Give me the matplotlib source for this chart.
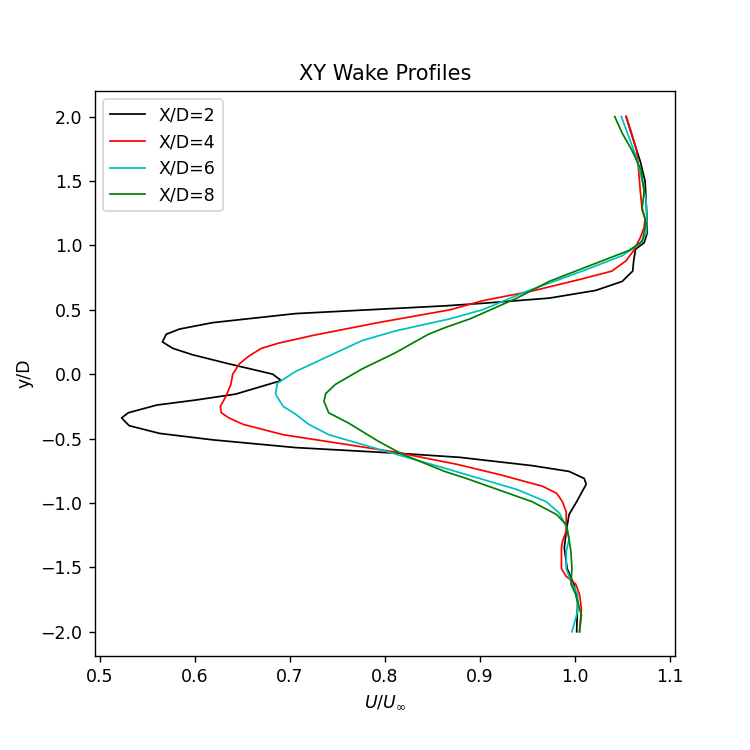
import matplotlib
matplotlib.use("Agg")
import matplotlib.pyplot as plt

labels = ["X/D=2", "X/D=4", "X/D=6", "X/D=8"]
colors = ["k", "r", "c", "g"]

y_2 = [2.00, 1.81, 1.65, 1.50, 1.35, 1.21, 1.09, 1.02, 0.97, 0.88, 0.80, 0.75, 0.72, 0.65,
       0.59, 0.55, 0.53, 0.47, 0.40, 0.35, 0.31, 0.25, 0.20, 0.15, 0.08, 0.00, -0.05, -0.155,
       -0.20, -0.24, -0.30, -0.34, -0.40, -0.46, -0.51, -0.57, -0.615, -0.646, -0.71, -0.755,
       -0.81, -0.855, -0.99, -1.09, -1.22, -1.35, -1.51, -1.63, -1.77, -2.00]
u_2 = [1.054, 1.062, 1.069, 1.074, 1.075, 1.076, 1.076, 1.073, 1.064, 1.062, 1.061, 1.054, 1.050, 1.022,
       0.973, 0.903, 0.863, 0.706, 0.619, 0.584, 0.570, 0.566, 0.577, 0.598, 0.636, 0.682, 0.691, 0.643,
       0.602, 0.560, 0.530, 0.523, 0.531, 0.563, 0.619, 0.706, 0.816, 0.879, 0.955, 0.994,
       1.010, 1.012, 1.002, 0.994, 0.991, 0.989, 0.992, 0.999, 1.003, 1.002]

y_4 = [2.00, 1.89, 1.74, 1.60, 1.42, 1.27, 1.21, 1.14, 1.06, 0.96, 0.88, 0.80, 0.74, 0.645,
       0.57, 0.50, 0.40, 0.30, 0.24, 0.20, 0.14, 0.08, 0.00, -0.08, -0.17, -0.25, -0.30, -0.34,
       -0.39, -0.47, -0.545, -0.605, -0.70, -0.78, -0.87, -0.925, -0.99, -1.07, -1.22, -1.30,
       -1.35, -1.51, -1.57, -1.63, -1.71, -1.82, -2.00]
u_4 = [1.054, 1.059, 1.065, 1.067, 1.069, 1.071, 1.074, 1.073, 1.069, 1.062, 1.054, 1.039, 1.008, 0.955,
       0.903, 0.869, 0.793, 0.724, 0.688, 0.670, 0.657, 0.647, 0.640, 0.638, 0.633, 0.627, 0.628, 0.636,
       0.651, 0.693, 0.759, 0.811, 0.876, 0.921, 0.966, 0.981, 0.987, 0.991, 0.991, 0.987,
       0.986, 0.986, 0.991, 1.001, 1.005, 1.007, 1.005]

y_6 = [2.00, 1.84, 1.68, 1.50, 1.35, 1.19, 1.09, 1.01, 0.92, 0.80, 0.645, 0.50, 0.43, 0.335,
       0.26, 0.14, 0.02, -0.07, -0.155, -0.25, -0.31, -0.39, -0.47, -0.545, -0.62, -0.73,
       -0.78, -0.895, -0.99, -1.08, -1.20, -1.28, -1.38, -1.51, -1.61, -1.71, -1.84, -2.00]
u_6 = [1.049, 1.057, 1.065, 1.071, 1.075, 1.076, 1.075, 1.068, 1.050, 1.008, 0.950, 0.903, 0.869, 0.811,
       0.776, 0.741, 0.706, 0.687, 0.685, 0.693, 0.706, 0.720, 0.741, 0.776, 0.811, 0.863,
       0.886, 0.939, 0.970, 0.984, 0.992, 0.994, 0.991, 0.991, 0.996, 1.003, 1.003, 0.997]

y_8 = [2.00, 1.87, 1.74, 1.58, 1.42, 1.29, 1.17, 1.03, 0.96, 0.88, 0.72, 0.59, 0.43, 0.36,
       0.31, 0.165, 0.04, -0.08, -0.15, -0.21, -0.30, -0.38, -0.52, -0.62, -0.755, -0.81,
       -0.99, -1.09, -1.17, -1.28, -1.38, -1.51, -1.63, -1.71, -1.87, -2.00]
u_8 = [1.042, 1.050, 1.060, 1.070, 1.073, 1.071, 1.075, 1.071, 1.057, 1.029, 0.973, 0.939, 0.890, 0.863,
       0.846, 0.811, 0.776, 0.748, 0.738, 0.736, 0.741, 0.762, 0.793, 0.818, 0.863, 0.886,
       0.955, 0.981, 0.991, 0.994, 0.996, 0.997, 0.996, 1.001, 1.007, 1.005]

ys = [y_2, y_4, y_6, y_8]
us = [u_2, u_4, u_6, u_8]

fig = plt.figure(figsize=(6, 6), dpi=125)
ax = fig.add_axes([0.126, 0.125, 0.774, 0.754])
for u, y, c, lab in zip(us, ys, colors, labels):
    ax.plot(u, y, color=c, lw=1.0, label=lab)

ax.set_xlim(0.4945, 1.1055)
ax.set_ylim(-2.19, 2.2)
ax.set_title("XY Wake Profiles")
ax.set_xlabel(r"$U/U_{\infty}$")
ax.set_ylabel("y/D")
ax.legend(loc="upper left")
fig.savefig("out.png", dpi=125)
